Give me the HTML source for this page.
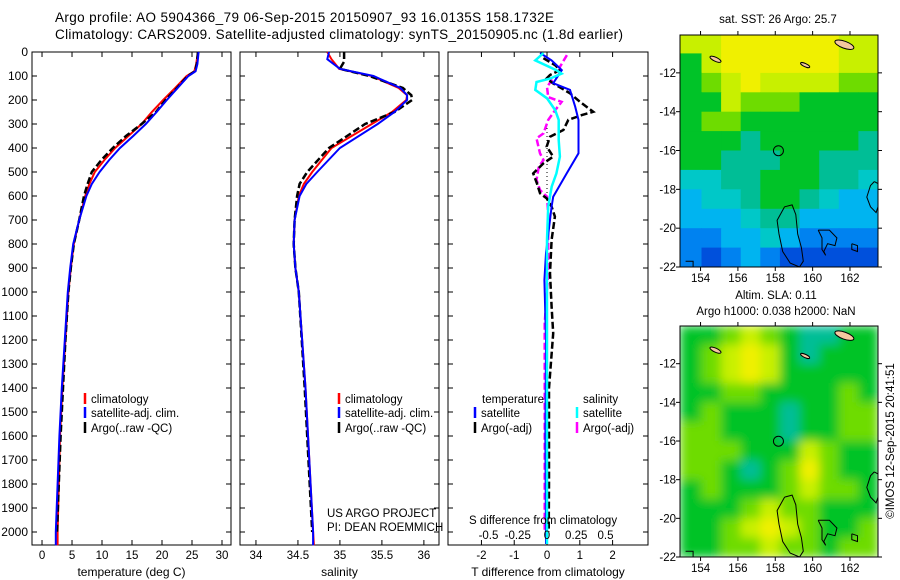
<!DOCTYPE html>
<html><head><meta charset="utf-8"><style>
html,body{margin:0;padding:0;background:#fff}
svg{display:block;font-family:"Liberation Sans",sans-serif}
</style></head><body>
<svg id="fig" width="900" height="580" viewBox="0 0 900 580" xmlns="http://www.w3.org/2000/svg">
<text x="55" y="22" font-size="13.5" textLength="499">Argo profile: AO 5904366_79 06-Sep-2015 20150907_93 16.0135S 158.1732E</text>
<text x="55" y="39" font-size="13.5" textLength="568">Climatology: CARS2009. Satellite-adjusted climatology: synTS_20150905.nc (1.8d earlier)</text>
<g id="panels"></g>
<text x="778" y="23" font-size="11.5" text-anchor="middle">sat. SST: 26 Argo: 25.7</text>
<text x="776" y="299" font-size="11.5" text-anchor="middle">Altim. SLA: 0.11</text>
<text x="776" y="315" font-size="11.5" text-anchor="middle">Argo h1000: 0.038 h2000: NaN</text>
<text transform="translate(894,441) rotate(-90)" font-size="11.5" text-anchor="middle">©IMOS 12-Sep-2015 20:41:51</text>
<text x="327" y="517" font-size="11.5">US ARGO PROJECT</text>
<text x="327" y="531" font-size="11.5">PI: DEAN ROEMMICH</text>
</svg>
<script>
// ---------- profile data ----------
const depthsT=[0,50,80,100,150,200,250,300,350,400,450,500,550,600,700,800,900,1000,1200,1400,1600,1800,2000,2055];
const tempClim=[26.0,25.7,25.4,24.1,22.2,20.2,18.3,16.6,14.4,12.2,10.4,8.8,7.9,7.2,6.2,5.3,4.8,4.4,3.9,3.4,3.0,2.8,2.6,2.6];
const tempSat=[26.1,25.9,25.6,24.4,22.6,20.8,19.1,17.3,15.2,13.0,11.2,9.6,8.3,7.4,6.2,5.2,4.7,4.3,3.8,3.3,2.9,2.6,2.3,2.3];
const depthsTA=[0,50,80,100,150,200,250,300,350,400,450,500,550,600,700,800,900,1000,1200,1400,1600,1800,2000];
const tempArgo=[26.0,25.8,25.5,24.3,22.5,20.6,19.0,16.6,14.0,11.8,9.9,8.3,7.6,7.0,6.2,5.3,4.8,4.4,3.9,3.5,3.1,2.8,2.5];
const depthsS=[0,30,70,100,150,180,200,250,300,400,500,550,600,700,800,900,1000,1400,2000,2055];
const salClim=[34.85,34.9,34.99,35.38,35.70,35.80,35.79,35.62,35.38,34.9,34.67,34.57,34.51,34.46,34.45,34.47,34.51,34.59,34.68,34.69];
const salSat=[34.87,34.85,35.0,35.40,35.72,35.80,35.80,35.65,35.45,35.0,34.73,34.60,34.52,34.46,34.45,34.47,34.51,34.59,34.68,34.68];
const depthsSA=[0,40,70,100,150,180,200,250,300,400,500,550,600,700,800,900,1000,1400,2000];
const salArgo=[35.05,35.05,35.0,35.35,35.75,35.85,35.86,35.65,35.3,34.87,34.61,34.52,34.49,34.46,34.45,34.47,34.51,34.58,34.67];
const depthsTdS=[4,35,76,130,158,228,283,422,506,603,644,838,950,1200,1600,2050];
const tDiffSat=[-0.21,0.14,0.45,0.19,0.70,0.86,0.96,0.96,0.6,0.19,0.14,-0.03,-0.08,-0.03,-0.05,-0.03];
const depthsTdA=[26,54,75,96,110,131,172,207,249,263,283,325,353,394,436,464,506,547,589,610,644,686,783,922,1061,1172,1400,1800,2000];
const tDiffArgo=[-0.11,0.24,0.40,0.09,-0.01,0.19,0.70,1.0,1.41,1.06,0.65,0.5,0.09,-0.01,0.19,-0.11,-0.42,-0.31,-0.21,-0.01,0.14,0.24,0.14,0.09,0.14,0.19,0.06,0.06,0.05];
const depthsSdS=[4,35,76,90,111,125,158,193,242,283,367,436,506,561,644,783,922,1200,1600,2050];
const sDiffSat=[-0.03,-0.10,0.08,0.125,0.026,-0.09,-0.10,0.0,0.07,0.10,0.10,0.11,0.08,0.04,0.01,0.0,0.0,0.0,0.0,0.0];
const depthsSdA=[13,62,90,118,146,188,208,242,283,339,360,422,450,478,533,575,603,672,783,922,1130,1500,2000];
const sDiffArgo=[0.17,0.11,0.11,0.04,0.0,0.01,0.125,0.07,0.01,-0.03,-0.09,-0.06,-0.03,-0.07,-0.09,-0.06,0.0,0.01,0.01,0.01,-0.02,-0.02,-0.02];
const depthTicks=[0,100,200,300,400,500,600,700,800,900,1000,1100,1200,1300,1400,1500,1600,1700,1800,1900,2000];
const tempTicks=[0,5,10,15,20,25,30];
const salTicks=[34,34.5,35,35.5,36];
const salTickLabels=["34","34.5","35","35.5","36"];
const tDiffTicks=[-2,-1,0,1,2];
const sDiffTicks=[-0.5,-0.25,0,0.25,0.5];
const sDiffTickLabels=["-0.5","-0.25","0","0.25","0.5"];
// ---------- map data (colour class per 1-degree cell, rows north->south) ----------
const mapLons=[153,154.05,155.1,156.15,157.2,158.25,159.3,160.35,161.4,162.45];
const mapLats=[-10,-11,-12,-13,-14,-15,-16,-17,-18,-19,-20,-21];
const sstGrid=[
[8,8,9,9,9,9,9,9,8,8],[6,8,9,9,9,9,9,9,8,8],[6,7,8,9,8,8,8,8,7,7],[6,6,8,7,7,7,6,6,6,6],
[6,7,7,6,6,6,6,6,6,6],[6,6,6,5,6,6,6,6,6,5],[6,6,5,5,5,6,6,5,5,5],[4,4,5,5,6,6,6,5,5,4],
[3,4,4,5,6,6,5,4,3,3],[3,3,3,4,5,5,3,3,3,3],[2,2,3,3,4,3,2,2,2,2],[2,1,2,3,2,1,1,1,1,1]];
const slaGrid=[
[6,6,7,8,7,6,5,5,6,6],[6,7,8,9,8,6,5,6,6,6],[6,7,8,9,8,6,6,6,6,6],[6,6,7,7,6,6,6,6,7,6],
[6,7,6,6,6,5,6,6,7,7],[7,7,6,6,6,5,6,6,7,7],[7,7,7,6,6,6,8,7,6,6],[7,7,6,5,6,7,9,7,6,6],
[6,7,6,6,6,7,8,7,7,6],[6,6,6,7,8,7,7,6,6,6],[6,6,7,8,9,8,7,6,6,7],[6,6,7,7,8,7,7,6,7,7]];
const palette=["#003cc8","#0050dc","#0082f0","#00b4f0","#00c8c8","#00be96","#00c328","#6edc00","#c8f000","#f0f000","#fac800"];
const argoLon=158.17, argoLat=-16.01;

const NS="http://www.w3.org/2000/svg";
const fig=document.getElementById('panels');
function mk(tag,attrs,parent){const e=document.createElementNS(NS,tag);for(const k in attrs)e.setAttribute(k,attrs[k]);(parent||fig).appendChild(e);return e;}
const yTop=52, pxPer100=24, yBot=545;
function yD(d){return yTop+d*pxPer100/100;}
const panels=[
 {name:'temperature',x0:32,x1:231,vmin:-1.67,vmax:31.5,ticks:tempTicks,labels:tempTicks.map(String),xlabel:'temperature (deg C)'},
 {name:'salinity',x0:240,x1:439,vmin:33.81,vmax:36.18,ticks:salTicks,labels:salTickLabels,xlabel:'salinity'},
 {name:'t-difference',x0:448,x1:648,vmin:-3.02,vmax:3.08,ticks:tDiffTicks,labels:tDiffTicks.map(String),xlabel:'T difference from climatology'}
];
function xf(p,v){return p.x0+(v-p.vmin)/(p.vmax-p.vmin)*(p.x1-p.x0);}
const sAx={x0:448,x1:648,vmin:-0.5-(487-448)/117,vmax:0.5+(648-604)/117};
sAx.vmin=-(547-448)/117; sAx.vmax=(648-547)/117;
function line(p,depths,vals,color,w,dash,name){
  const pts=vals.map((v,i)=>xf(p,v).toFixed(1)+','+yD(depths[i]).toFixed(1)).join(' ');
  const el=mk('polyline',{points:pts,fill:'none',stroke:color,'stroke-width':w});
  if(dash)el.setAttribute('stroke-dasharray',dash);
  
  
}
panels.forEach((p,pi)=>{
  const fr=mk('rect',{x:p.x0,y:yTop,width:p.x1-p.x0,height:yBot-yTop,fill:'none',stroke:'#000','stroke-width':1});
  
  
  depthTicks.forEach(d=>{
    mk('line',{x1:p.x0,x2:p.x0+5,y1:yD(d),y2:yD(d),stroke:'#000'});
    mk('line',{x1:p.x1,x2:p.x1-5,y1:yD(d),y2:yD(d),stroke:'#000'});
    if(pi===0){const t=mk('text',{x:28,y:yD(d)+4,'font-size':12,'text-anchor':'end'});t.textContent=d;
      
      }
  });
  p.ticks.forEach((v,i)=>{
    const x=xf(p,v);
    mk('line',{x1:x,x2:x,y1:yTop,y2:yTop+5,stroke:'#000'});
    mk('line',{x1:x,x2:x,y1:yBot,y2:yBot-5,stroke:'#000'});
    const t=mk('text',{x:x,y:559,'font-size':11.5,'text-anchor':'middle'});t.textContent=p.labels[i];
    
    
  });
  const xl=mk('text',{x:(p.x0+p.x1)/2,y:576,'font-size':12,'text-anchor':'middle'});xl.textContent=p.xlabel;
  
  
});
const P=panels;
line(P[0],depthsT,tempClim,'#f00',2,null,'temperature-climatology-line');
line(P[0],depthsTA,tempArgo,'#000',2.5,'7,3','temperature-argo-line');
line(P[0],depthsT,tempSat,'#00f',2,null,'temperature-satellite-line');
line(P[1],depthsS,salClim,'#f00',2,null,'salinity-climatology-line');
line(P[1],depthsSA,salArgo,'#000',2.5,'7,3','salinity-argo-line');
line(P[1],depthsS,salSat,'#00f',2,null,'salinity-satellite-line');
// zero dotted line
const z=mk('line',{x1:547,x2:547,y1:yD(300),y2:yD(620),stroke:'#000','stroke-dasharray':'1,3'});


line(sAx,depthsSdA,sDiffArgo,'#f0f',2.5,'7,3','salinity-diff-argo-line');
line(P[2],depthsTdA,tDiffArgo,'#000',2.5,'7,3','temperature-diff-argo-line');
line(P[2],depthsTdS,tDiffSat,'#00f',2,null,'temperature-diff-satellite-line');
line(sAx,depthsSdS,sDiffSat,'#0ff',2.5,null,'salinity-diff-satellite-line');
// S diff axis labels
const st=mk('text',{x:469,y:524,'font-size':11.5});st.textContent='S difference from climatology';


sDiffTicks.forEach((v,i)=>{const t=mk('text',{x:xf(sAx,v),y:539,'font-size':11.5,'text-anchor':'middle'});t.textContent=sDiffTickLabels[i];
  
  });
// legends
function leg(x,y,color,label,name){
  mk('line',{x1:x,x2:x,y1:y-10,y2:y+1,stroke:color,'stroke-width':2.5});
  const t=mk('text',{x:x+6,y:y,'font-size':11.5});t.textContent=label;
  
  
}
leg(85,403,'#f00','climatology','legend-climatology');
leg(85,417,'#00f','satellite-adj. clim.','legend-satellite-adj');
leg(85,432,'#000','Argo(..raw -QC)','legend-argo');
leg(339,403,'#f00','climatology','legend-climatology');
leg(339,417,'#00f','satellite-adj. clim.','legend-satellite-adj');
leg(339,432,'#000','Argo(..raw -QC)','legend-argo');
const tt=mk('text',{x:482,y:403,'font-size':11.5});tt.textContent='temperature';


const sh=mk('text',{x:583,y:403,'font-size':11.5});sh.textContent='salinity';


leg(475,417,'#00f','satellite','legend-temp-satellite');
leg(475,432,'#000','Argo(-adj)','legend-temp-argo');
leg(577,417,'#0ff','satellite','legend-sal-satellite');
leg(577,432,'#f0f','Argo(-adj)','legend-sal-argo');

// ---------- maps ----------
function drawMap(top,bottom,grid,name,smooth){
  const L=680,R=878,lonMin=152.9,lonMax=163.5,latMax=-10.05,latMin=-22;
  const mx=lon=>L+(lon-lonMin)/(lonMax-lonMin)*(R-L);
  const my=lat=>top+(latMax-lat)/(latMax-latMin)*(bottom-top);
  const g=mk('g',{});
  
  
  if(smooth){g.setAttribute('filter','url(#blur)');}
  grid.forEach((row,r)=>row.forEach((c,k)=>{
    const x0=k===0?L:mx(mapLons[k]), x1=k===row.length-1?R:mx(mapLons[k]+1.05);
    const y0=r===0?top:my(mapLats[r]), y1=r===grid.length-1?bottom:my(mapLats[r]-1);
    const cell=mk('rect',{x:x0.toFixed(1),y:y0.toFixed(1),width:(x1-x0+0.5).toFixed(1),height:(y1-y0+0.5).toFixed(1),fill:palette[c]},g);
    
    
  }));
  // coastline contours (approximate)
  const cg=mk('g',{fill:'none',stroke:'#000','stroke-width':1});
  const paths=[
   [[158.5,-18.9],[158.9,-18.8],[159.1,-19.3],[159.2,-20.3],[159.4,-21],[159.5,-21.7],[159.3,-22],[158.8,-21.8],[158.4,-21.2],[158.2,-20.3],[158.1,-19.6],[158.5,-18.9]],
   [[160.3,-20.1],[160.9,-20.1],[161.3,-20.5],[161.2,-20.9],[160.8,-20.8],[160.6,-21.2],[160.7,-21.4],[160.5,-21.1],[160.5,-20.5],[160.3,-20.1]],
   [[163.3,-17.6],[163.5,-17.7],[163.5,-18.9],[163.4,-19.2],[163.1,-18.9],[162.9,-18.4],[163.1,-17.8],[163.3,-17.6]],
   [[162.1,-20.8],[162.4,-20.9],[162.4,-21.2],[162.1,-21.1],[162.1,-20.8]],
   [[153.2,-21.7],[153.6,-21.7],[153.6,-22],[153.2,-22]]
  ];
  paths.forEach(pa=>mk('polyline',{points:pa.map(p=>mx(p[0]).toFixed(1)+','+my(p[1]).toFixed(1)).join(' ')},cg));
  // islands
  mk('ellipse',{cx:mx(161.7),cy:my(-10.55),rx:10,ry:3.5,fill:'#f5c8a0',stroke:'#000',transform:`rotate(20 ${mx(161.7)} ${my(-10.55)})`});
  mk('ellipse',{cx:mx(154.8),cy:my(-11.3),rx:6,ry:2,fill:'#f5c8a0',stroke:'#000',transform:`rotate(25 ${mx(154.8)} ${my(-11.3)})`});
  mk('ellipse',{cx:mx(159.6),cy:my(-11.6),rx:5,ry:1.6,fill:'#f5c8a0',stroke:'#000',transform:`rotate(25 ${mx(159.6)} ${my(-11.6)})`});
  const c=mk('circle',{cx:mx(argoLon),cy:my(argoLat),r:5,fill:'none',stroke:'#000','stroke-width':1});
  
  
  const fr=mk('rect',{x:L,y:top,width:R-L,height:bottom-top,fill:'none',stroke:'#000'});
  
  
  [154,156,158,160,162].forEach(lon=>{
    const x=mx(lon);
    mk('line',{x1:x,x2:x,y1:top,y2:top-4,stroke:'#000'});
    mk('line',{x1:x,x2:x,y1:bottom,y2:bottom+4,stroke:'#000'});
    const t=mk('text',{x:x,y:bottom+15,'font-size':11.5,'text-anchor':'middle'});t.textContent=lon;
    
    
  });
  [-12,-14,-16,-18,-20,-22].forEach(lat=>{
    const y=my(lat);
    mk('line',{x1:L,x2:L-4,y1:y,y2:y,stroke:'#000'});
    mk('line',{x1:R,x2:R+4,y1:y,y2:y,stroke:'#000'});
    const t=mk('text',{x:L-4,y:y+4,'font-size':11.5,'text-anchor':'end'});t.textContent=lat;
    
    
  });
}
const defs=mk('defs',{});
const f=mk('filter',{id:'blur',x:'0',y:'0',width:'1',height:'1'},defs);
mk('feGaussianBlur',{stdDeviation:'5',edgeMode:'duplicate'},f);
drawMap(35,267,sstGrid,'sst-map',false);
drawMap(326,557,slaGrid,'sla-map',true);
</script>
</body></html>
